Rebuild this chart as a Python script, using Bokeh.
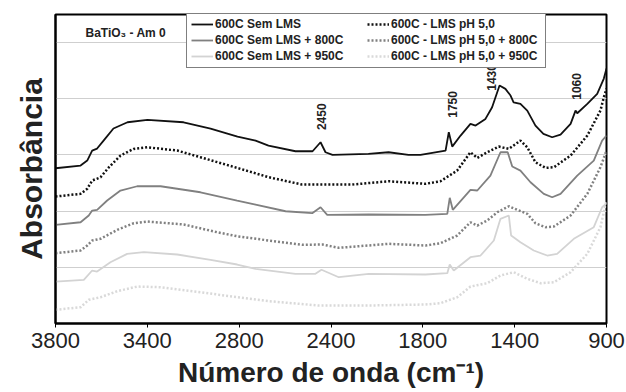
import math
from bokeh.plotting import figure
from bokeh.models import Range1d, FixedTicker, Legend, LegendItem, Label
from bokeh.embed import file_html
from bokeh.resources import INLINE

# ---- data ----
s1_w = [3800, 3668, 3633, 3607, 3581, 3547, 3495, 3421, 3316, 3126, 2984, 2842, 2747, 2679, 2537, 2447,
        2405, 2379, 2342, 2153, 2047, 1942, 1879, 1747, 1730, 1712, 1668, 1616, 1589, 1537, 1502, 1463,
        1432, 1405, 1389, 1353, 1317, 1274, 1232, 1186, 1142, 1089, 1063, 1054, 1001, 949, 914, 900]
s1_a = [2.763, 2.811, 2.900, 3.078, 3.114, 3.256, 3.470, 3.582, 3.625, 3.582, 3.470, 3.327, 3.256, 3.167,
        3.066, 3.066, 3.226, 3.048, 3.002, 3.020, 3.048, 3.002, 3.002, 3.078, 3.404, 3.149, 3.345, 3.553,
        3.523, 3.642, 3.849, 4.235, 4.176, 4.057, 3.938, 3.909, 3.790, 3.523, 3.375, 3.315, 3.363, 3.553,
        3.790, 3.742, 3.909, 4.087, 4.359, 4.537]

s2_w = [3800, 3668, 3633, 3607, 3563, 3519, 3458, 3389, 3317, 3159, 3037, 2844, 2677, 2502, 2238, 2046,
        1853, 1774, 1686, 1616, 1580, 1528, 1467, 1414, 1353, 1317, 1274, 1221, 1177, 1089, 1001, 932,
        914, 900]
s2_a = [2.260, 2.308, 2.397, 2.544, 2.603, 2.781, 2.989, 3.108, 3.137, 3.078, 2.959, 2.770, 2.603, 2.473,
        2.473, 2.532, 2.486, 2.532, 2.722, 3.048, 2.948, 3.048, 3.149, 3.108, 3.256, 3.137, 2.870, 2.770,
        2.781, 2.989, 3.345, 3.790, 4.027, 4.180]

s3_w = [3800, 3668, 3625, 3607, 3581, 3528, 3458, 3370, 3247, 3037, 2844, 2747, 2589, 2449, 2405, 2370,
        2151, 1853, 1738, 1725, 1709, 1616, 1580, 1511, 1458, 1420, 1396, 1353, 1300, 1230, 1186, 1142,
        1054, 967, 923, 900]
s3_a = [1.756, 1.802, 1.922, 2.011, 2.023, 2.189, 2.367, 2.443, 2.443, 2.336, 2.189, 2.117, 1.998, 1.963,
        2.069, 1.934, 1.940, 1.934, 1.952, 2.237, 2.023, 2.379, 2.367, 2.633, 3.048, 3.048, 2.794, 2.722,
        2.514, 2.308, 2.247, 2.308, 2.633, 2.900, 3.256, 3.345]

s4_w = [3800, 3668, 3633, 3607, 3563, 3475, 3388, 3317, 3125, 2949, 2844, 2677, 2502, 2396, 2309, 2046,
        1853, 1774, 1686, 1616, 1580, 1528, 1475, 1414, 1370, 1317, 1274, 1221, 1177, 1089, 1001, 932, 900]
s4_a = [1.251, 1.299, 1.388, 1.477, 1.507, 1.667, 1.785, 1.815, 1.762, 1.625, 1.553, 1.477, 1.400, 1.406,
        1.347, 1.418, 1.388, 1.429, 1.566, 1.802, 1.744, 1.833, 1.980, 2.087, 2.023, 1.952, 1.785, 1.714,
        1.726, 1.922, 2.308, 2.781, 3.078]

s5_w = [3800, 3651, 3607, 3581, 3511, 3423, 3335, 3159, 2984, 2844, 2747, 2537, 2432, 2400, 2309, 2151,
        1853, 1738, 1725, 1704, 1616, 1563, 1493, 1458, 1414, 1402, 1353, 1283, 1212, 1160, 1072, 967, 923, 900]
s5_a = [0.747, 0.778, 0.943, 0.925, 1.091, 1.240, 1.269, 1.228, 1.133, 1.050, 0.973, 0.884, 0.884, 0.956,
        0.824, 0.884, 0.872, 0.895, 1.050, 0.943, 1.180, 1.210, 1.477, 1.863, 1.922, 1.566, 1.447, 1.299,
        1.210, 1.240, 1.507, 1.714, 2.069, 2.135]

s6_w = [3800, 3668, 3625, 3563, 3475, 3370, 3247, 3037, 2844, 2677, 2414, 2151, 1853, 1774, 1686, 1616,
        1528, 1458, 1388, 1317, 1247, 1177, 1089, 1001, 932, 900]
s6_a = [0.244, 0.290, 0.422, 0.468, 0.575, 0.658, 0.646, 0.557, 0.468, 0.397, 0.320, 0.320, 0.338, 0.361,
        0.468, 0.658, 0.717, 0.854, 0.913, 0.795, 0.717, 0.735, 0.913, 1.240, 1.714, 2.189]

series_names = ["600C Sem LMS", "600C Sem LMS + 800C", "600C Sem LMS + 950C",
                "600C - LMS pH 5,0", "600C - LMS pH 5,0 + 800C", "600C - LMS pH 5,0 + 950C"]

tick_labels = ["3800", "3400", "2800", "2400", "1800", "1400", "900"]

peak_text = ["2450", "1750", "1430", "1060"]
peak_w = [2400, 1711, 1506, 1058]
peak_a = [3.68, 3.90, 4.38, 4.22]

FONT = "Liberation Sans"

p = figure(width=626, height=392, output_backend="svg", toolbar_location=None,
           x_range=Range1d(3800, 900), y_range=Range1d(0, 5.5),
           min_border_left=55, min_border_right=20, min_border_top=14, min_border_bottom=69)

p.outline_line_color = "black"
p.outline_line_width = 2
p.background_fill_color = "white"
p.border_fill_color = "white"

p.xgrid.visible = False
p.ygrid.ticker = FixedTicker(ticks=[1, 2, 3, 4, 5])
p.ygrid.grid_line_color = "#cfcfcf"
p.ygrid.grid_line_width = 1

ya = p.yaxis[0]
ya.ticker = FixedTicker(ticks=[])
ya.major_tick_line_color = None
ya.minor_tick_line_color = None
ya.major_label_text_font_size = "0px"
ya.axis_line_color = "black"
ya.axis_line_width = 2
ya.axis_label = "Absorbância"
ya.axis_label_text_font = FONT
ya.axis_label_text_font_style = "bold"
ya.axis_label_text_font_size = "30px"
ya.axis_label_text_color = "#222222"
ya.axis_label_standoff = 8

x0, x1 = 3800, 900
tick_pos = [x0 + (x1 - x0) * k / (len(tick_labels) - 1) for k in range(len(tick_labels))]
xa = p.xaxis[0]
xa.ticker = FixedTicker(ticks=tick_pos)
xa.major_label_overrides = {t: lab for t, lab in zip(tick_pos, tick_labels)}
xa.minor_tick_line_color = None
xa.major_tick_in = 0
xa.major_tick_out = 4
xa.major_tick_line_color = "black"
xa.axis_line_color = "black"
xa.axis_line_width = 2
xa.major_label_text_font = FONT
xa.major_label_text_font_size = "22px"
xa.major_label_text_color = "#222222"
xa.major_label_standoff = 5
xa.axis_label = "Número de onda (cm⁻¹)"
xa.axis_label_text_font = FONT
xa.axis_label_text_font_style = "bold"
xa.axis_label_text_font_size = "28px"
xa.axis_label_text_color = "#222222"
xa.axis_label_standoff = 6

black, gray, light = "#111111", "#808080", "#d3d3d3"
r1 = p.line(s1_w, s1_a, line_color=black, line_width=1.8)
r3 = p.line(s3_w, s3_a, line_color=gray, line_width=1.8)
r5 = p.line(s5_w, s5_a, line_color=light, line_width=1.8)
r2 = p.line(s2_w, s2_a, line_color=black, line_width=2.5, line_dash="2 2")
r4 = p.line(s4_w, s4_a, line_color=gray, line_width=2.5, line_dash="2 2")
r6 = p.line(s6_w, s6_a, line_color="#d9d9d9", line_width=2.5, line_dash="2 2")

for t, w, a in zip(peak_text, peak_w, peak_a):
    p.add_layout(Label(x=w, y=a, text=t, angle=math.pi / 2, text_align="center",
                       text_baseline="middle", text_font=FONT, text_font_style="bold",
                       text_font_size="12px", text_color="#222222"))

p.add_layout(Label(x=30, y=291, x_units="screen", y_units="screen", text="BaTiO₃ - Am 0",
                   text_font=FONT, text_font_style="bold", text_font_size="12px",
                   text_baseline="middle", text_color="#222222"))

items = [LegendItem(label=series_names[i], renderers=[rr]) for i, rr in
         zip([0, 1, 2, 3, 4, 5], [r1, r3, r5, r2, r4, r6])]
legend = Legend(items=items, location=(131, 255), ncols=2, orientation="vertical",
                label_text_font=FONT, label_text_font_style="bold", label_text_font_size="12px",
                label_text_color="#222222", label_width=150, label_height=14, glyph_height=14,
                glyph_width=22, label_standoff=2, spacing=2, padding=4, margin=0,
                border_line_color="black", border_line_width=1, background_fill_alpha=1)
p.add_layout(legend, "center")

open("out.html", "w").write(file_html(p, INLINE))
